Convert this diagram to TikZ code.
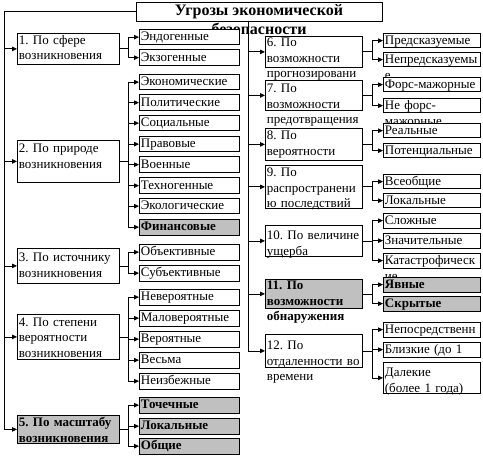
\documentclass[tikz,border=0pt]{standalone}
\usepackage{fontspec}
\setmainfont{Liberation Serif}
\usetikzlibrary{arrows.meta}
\frenchspacing
\definecolor{boxgray}{RGB}{192,192,192}
\newcommand\boxfont{\fontsize{13bp}{15.5bp}\selectfont}
\newcommand\titlefont{\fontsize{16bp}{18bp}\selectfont\bfseries}
\tikzset{
  arr/.style={-{Triangle[length=5bp,width=4.5bp]}, line width=0.8bp},
  anybox/.style={draw, line width=0.8bp, fill=white, anchor=north west, align=left,
    inner xsep=1.5bp, inner ysep=1.5bp, font=\boxfont},
  catl/.style={anybox, text width=99bp},
  catr/.style={anybox, text width=94bp},
  subl/.style={anybox, text width=97bp, text height=10bp, text depth=2.5bp},
  subr/.style={anybox, text width=94bp, text height=10bp, text depth=1.5bp},
  hot/.style={fill=boxgray, font=\boxfont\bfseries},
}
\begin{document}
\begin{tikzpicture}[x=1bp, y=-1bp]
    \useasboundingbox (0,0) rectangle (483,458);

    % Заголовок
    \node[font=\titlefont, inner sep=0pt] (title2) at (259,29) {безопасности};
    \node[draw, line width=0.8bp, fill=white, minimum width=246bp, minimum height=19bp,
      inner sep=0pt, font=\titlefont] (title) at (259,11.5) {Угрозы экономической};

    % Признаки слева
    \node[catl, text height=9.5bp, text depth=18.5bp] (c1) at (17,33) {1. По сфере\\возникновения};
    \node[catl, text height=11bp, text depth=28bp] (c2) at (17,140) {2. По природе\\возникновения};
    \node[catl, text height=12bp, text depth=20bp] (c3) at (17,248) {3. По источнику\\возникновения};
    \node[catl, text height=10.5bp, text depth=31.5bp] (c4) at (17,314) {4. По степени\\вероятности\\возникновения};
    \node[catl, hot, text height=10bp, text depth=15bp] (c5) at (17,415) {5. По масштабу\\возникновения};

    % Виды слева
    \node[subl] (s1a) at (139,29) {Эндогенные};
    \node[subl] (s1b) at (139,49.5) {Экзогенные};
    \node[subl] (s2a) at (139,74) {Экономические};
    \node[subl] (s2b) at (139,94.5) {Политические};
    \node[subl] (s2c) at (139,115) {Социальные};
    \node[subl] (s2d) at (139,136) {Правовые};
    \node[subl] (s2e) at (139,156.5) {Военные};
    \node[subl] (s2f) at (139,177.5) {Техногенные};
    \node[subl] (s2g) at (139,198) {Экологические};
    \node[subl, hot] (s2h) at (139,219) {Финансовые};
    \node[subl] (s3a) at (139,244) {Объективные};
    \node[subl] (s3b) at (139,265) {Субъективные};
    \node[subl] (s4a) at (139,289) {Невероятные};
    \node[subl] (s4b) at (139,310) {Маловероятные};
    \node[subl] (s4c) at (139,331) {Вероятные};
    \node[subl] (s4d) at (139,352) {Весьма};
    \node[subl] (s4e) at (139,373) {Неизбежные};
    \node[subl, hot] (s5a) at (139,397) {Точечные};
    \node[subl, hot] (s5b) at (139,418) {Локальные};
    \node[subl, hot] (s5c) at (139,438) {Общие};

    % Признаки справа
    \node[catr, text height=9bp, text depth=19bp] (c6) at (265,36) {6. По\\возможности\\прогнозировани};
    \node[catr, text height=11bp, text depth=16bp] (c7) at (265,80) {7. По\\возможности\\предотвращения};
    \node[catr, text height=10bp, text depth=19bp] (c8) at (265,128) {8. По\\вероятности};
    \node[catr, text height=10bp, text depth=30bp] (c9) at (265,165) {9. По\\распространени\\ю последствий};
    \node[catr, text height=13bp, text depth=15bp] (c10) at (265,225) {10. По величине\\ущерба};
    \node[catr, hot, text height=9bp, text depth=17bp] (c11) at (265,279) {11. По\\возможности\\обнаружения};
    \node[catr, text height=14bp, text depth=16bp] (c12) at (265,334) {12. По\\отдаленности во\\времени};

    % Виды справа
    \node[subr] (s6a) at (383,33) {Предсказуемые};
    \node[subr] (s6b) at (383,52) {Непредсказуемы\\е};
    \node[subr] (s7a) at (383,77) {Форс-мажорные};
    \node[subr] (s7b) at (383,98) {Не форс-\\мажорные};
    \node[subr] (s8a) at (383,123) {Реальные};
    \node[subr] (s8b) at (383,143) {Потенциальные};
    \node[subr] (s9a) at (383,174) {Всеобщие};
    \node[subr] (s9b) at (383,193) {Локальные};
    \node[subr] (s10a) at (383,213) {Сложные};
    \node[subr] (s10b) at (383,233) {Значительные};
    \node[subr] (s10c) at (383,253) {Катастрофическ\\ие};
    \node[subr, hot] (s11a) at (383,277) {Явные};
    \node[subr, hot] (s11b) at (383,296) {Скрытые};
    \node[subr] (s12a) at (383,322) {Непосредственн};
    \node[subr] (s12b) at (383,342) {Близкие (до 1};
    \node[subr, text height=13bp, text depth=15bp] (s12c) at (383,362) {Далекие\\(более 1 года)};

    % Стволы
    \coordinate (lt) at (4,11.5);
    \coordinate (rt) at (248,21);
    \foreach \x in {c1,c2,c3,c4,c5} \draw[arr] (title.west) -- (lt) |- (\x.west);
    \foreach \x in {c6,c7,c8,c9,c10,c11,c12} \draw[arr] (rt) |- (\x.west);

    % Ветви
    \foreach \x in {s1a,s1b} \draw[arr] (c1.east) -- ++(9,0) |- (\x.west);
    \foreach \x in {s2a,s2b,s2c,s2d,s2e,s2f,s2g,s2h} \draw[arr] (c2.east) -- ++(9,0) |- (\x.west);
    \foreach \x in {s3a,s3b} \draw[arr] (c3.east) -- ++(9,0) |- (\x.west);
    \foreach \x in {s4a,s4b,s4c,s4d,s4e} \draw[arr] (c4.east) -- ++(9,0) |- (\x.west);
    \foreach \x in {s5a,s5b,s5c} \draw[arr] (c5.east) -- ++(9,0) |- (\x.west);
    \foreach \x in {s6a,s6b} \draw[arr] (c6.east) -- ++(10,0) |- (\x.west);
    \foreach \x in {s7a,s7b} \draw[arr] (c7.east) -- ++(10,0) |- (\x.west);
    \foreach \x in {s8a,s8b} \draw[arr] (c8.east) -- ++(10,0) |- (\x.west);
    \foreach \x in {s9a,s9b} \draw[arr] (c9.east) -- ++(10,0) |- (\x.west);
    \foreach \x in {s10a,s10b,s10c} \draw[arr] (c10.east) -- ++(10,0) |- (\x.west);
    \foreach \x in {s11a,s11b} \draw[arr] (c11.east) -- ++(10,0) |- (\x.west);
    \foreach \x in {s12a,s12b,s12c} \draw[arr] (c12.east) -- ++(10,0) |- (\x.west);
\end{tikzpicture}
\end{document}
